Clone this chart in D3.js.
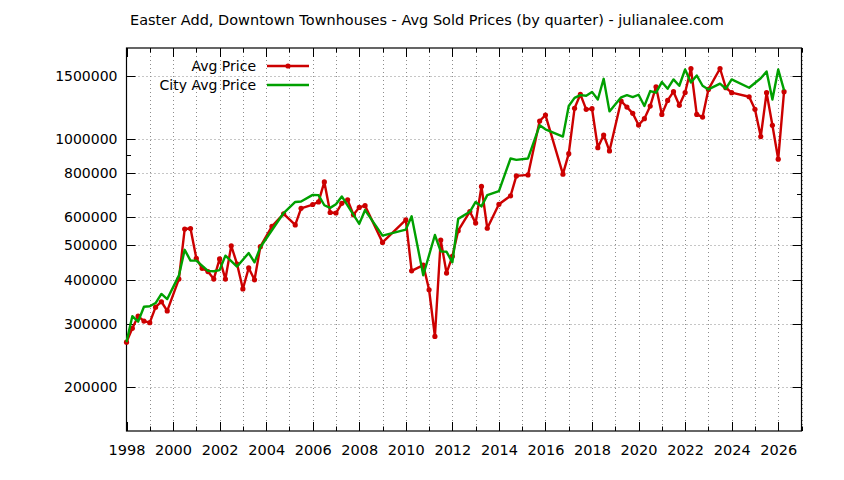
<!DOCTYPE html>
<html><head><meta charset="utf-8">
<script src="https://cdn.jsdelivr.net/npm/d3@7"></script>
<style>
html,body{margin:0;padding:0;background:#fff;}
svg text{font-family:"DejaVu Sans",sans-serif;}
</style></head>
<body><svg id="c" width="844" height="480"></svg>
<script>
const title = "Easter Add, Downtown Townhouses - Avg Sold Prices (by quarter) - julianalee.com";
const seriesNames = ["Avg Price", "City Avg Price"];

const avgDates = [1998.00,1998.25,1998.50,1998.75,1999.00,1999.25,1999.50,1999.75,2000.25,2000.50,2000.75,2001.00,2001.25,2001.50,2001.75,2002.00,2002.25,2002.50,2002.75,2003.00,2003.25,2003.50,2003.75,2004.25,2004.75,2005.25,2005.50,2006.00,2006.25,2006.50,2006.75,2007.00,2007.25,2007.50,2007.75,2008.00,2008.25,2009.00,2010.00,2010.25,2010.75,2011.00,2011.25,2011.50,2011.75,2012.00,2012.25,2012.75,2013.00,2013.25,2013.50,2014.00,2014.50,2014.75,2015.25,2015.75,2016.00,2016.75,2017.00,2017.25,2017.50,2017.75,2018.00,2018.25,2018.50,2018.75,2019.25,2019.50,2019.75,2020.00,2020.25,2020.50,2020.75,2021.00,2021.25,2021.50,2021.75,2022.00,2022.25,2022.50,2022.75,2023.00,2023.50,2023.75,2024.00,2024.75,2025.00,2025.25,2025.50,2025.75,2026.00,2026.25];
const avgPrice = [267000,292000,316000,306000,303000,335000,347000,327000,402000,556000,558000,460000,431000,422000,402000,458000,402000,499000,443000,377000,432000,400000,496000,566000,614000,571000,636000,652000,663000,755000,619000,617000,657000,672000,610000,640000,647000,510000,590000,424000,440000,375000,277000,518000,418000,466000,550000,623000,578000,733000,559000,653000,690000,785000,790000,1121000,1165000,794000,907000,1217000,1332000,1209000,1214000,943000,1023000,923000,1276000,1227000,1178000,1092000,1138000,1235000,1400000,1170000,1281000,1356000,1241000,1348000,1576000,1170000,1150000,1376000,1576000,1391000,1347000,1312000,1209000,1013000,1347000,1090000,875000,1356000];

const cityDates = [1998.00,1998.25,1998.50,1998.75,1999.00,1999.25,1999.50,1999.75,2000.25,2000.50,2000.75,2001.00,2001.50,2001.75,2002.00,2002.25,2002.75,2003.25,2003.50,2003.75,2004.75,2005.25,2005.50,2006.00,2006.25,2006.50,2006.75,2007.00,2007.25,2008.00,2008.25,2009.00,2010.00,2010.25,2010.75,2011.25,2011.50,2011.75,2012.00,2012.25,2012.75,2013.00,2013.25,2013.50,2014.00,2014.50,2014.75,2015.25,2015.75,2016.00,2016.75,2017.00,2017.25,2017.50,2017.75,2018.00,2018.25,2018.50,2018.75,2019.25,2019.50,2019.75,2020.00,2020.25,2020.50,2020.75,2021.00,2021.25,2021.50,2021.75,2022.00,2022.25,2022.50,2022.75,2023.00,2023.50,2023.75,2024.00,2024.75,2025.25,2025.50,2025.75,2026.00,2026.25];
const cityPrice = [267000,316000,305000,336000,337000,344000,365000,353000,411000,486000,453000,453000,424000,423000,426000,468000,436000,476000,448000,494000,617000,663000,665000,694000,693000,649000,638000,653000,687000,575000,629000,533000,554000,604000,412000,535000,481000,480000,448000,594000,622000,663000,644000,693000,711000,879000,871000,879000,1090000,1062000,1013000,1235000,1302000,1326000,1321000,1354000,1289000,1474000,1193000,1307000,1326000,1309000,1329000,1236000,1361000,1347000,1443000,1382000,1468000,1409000,1566000,1439000,1506000,1409000,1376000,1428000,1382000,1468000,1391000,1479000,1546000,1289000,1566000,1369000];

const xTickLabels = [1998,2000,2002,2004,2006,2008,2010,2012,2014,2016,2018,2020,2022,2024,2026];
const xMinorTicks = d3.range(1998, 2028, 1);
const yTickValues = [200000,300000,400000,500000,600000,800000,1000000,1500000];
const yMinorTicks = [700000,900000];

const W = 844, H = 480;
const L = 126.5, R = 801.5, T = 48, B = 431;
const svg = d3.select("#c");
const x = d3.scaleLinear().domain([1998, 2027]).range([L, R]);
const y = d3.scaleLog().domain([150000, 1800000]).range([B, T]);

const RED = "#cc0000", GREEN = "#00a000", GRID = "#8c8c8c";
const FS = 14;

// grid
const g = svg.append("g");
g.selectAll(".vg").data(xMinorTicks.filter(v => v > 1998)).join("line")
  .attr("x1", d => Math.round(x(d)) + 0.5).attr("x2", d => Math.round(x(d)) + 0.5)
  .attr("y1", T).attr("y2", B)
  .attr("stroke", GRID).attr("stroke-width", 1).attr("stroke-dasharray", "1,3");
g.selectAll(".hg").data(yTickValues).join("line")
  .attr("x1", L).attr("x2", R)
  .attr("y1", d => Math.round(y(d)) + 0.5).attr("y2", d => Math.round(y(d)) + 0.5)
  .attr("stroke", GRID).attr("stroke-width", 1).attr("stroke-dasharray", "1,3");

// axes via d3
const xAxisB = d3.axisBottom(x).tickValues(xTickLabels).tickFormat(d3.format("d")).tickSize(0).tickPadding(14);
const gx = svg.append("g").attr("transform", `translate(0,${B})`).call(xAxisB);
gx.select(".domain").remove();
gx.selectAll("text").attr("font-size", 14.5).attr("fill", "#000").attr("font-family", "DejaVu Sans");

const yAxisL = d3.axisLeft(y).tickValues(yTickValues).tickFormat(d3.format("d")).tickSize(0).tickPadding(9);
const gy = svg.append("g").attr("transform", `translate(${L},0)`).call(yAxisL);
gy.select(".domain").remove();
gy.selectAll("text").attr("font-size", FS).attr("fill", "#000").attr("font-family", "DejaVu Sans");

// ticks (inward, mirrored)
const tk = svg.append("g").attr("stroke", "#000").attr("stroke-width", 1);
xMinorTicks.forEach(v => {
  const major = v % 2 === 0;
  const len = major ? 9 : 4.5;
  const xx = Math.round(x(v)) + 0.5;
  tk.append("line").attr("x1", xx).attr("x2", xx).attr("y1", B).attr("y2", B - len);
  tk.append("line").attr("x1", xx).attr("x2", xx).attr("y1", T).attr("y2", T + len);
});
yTickValues.concat(yMinorTicks).forEach(v => {
  const major = yTickValues.includes(v);
  const len = major ? 9 : 4.5;
  const yy = Math.round(y(v)) + 0.5;
  tk.append("line").attr("x1", L).attr("x2", L + len).attr("y1", yy).attr("y2", yy);
  tk.append("line").attr("x1", R).attr("x2", R - len).attr("y1", yy).attr("y2", yy);
});

// border
svg.append("rect").attr("x", L).attr("y", T).attr("width", R - L).attr("height", B - T)
  .attr("fill", "none").attr("stroke", "#000").attr("stroke-width", 1.2);

// series
const avgData = avgDates.map((d, i) => [d, avgPrice[i]]);
const cityData = cityDates.map((d, i) => [d, cityPrice[i]]);
const line = d3.line().x(d => x(d[0])).y(d => y(d[1]));

svg.append("path").datum(avgData).attr("d", line)
  .attr("fill", "none").attr("stroke", RED).attr("stroke-width", 2.4).attr("stroke-linejoin", "round");
svg.append("g").selectAll("circle").data(avgData).join("circle")
  .attr("cx", d => x(d[0])).attr("cy", d => y(d[1])).attr("r", 2.6).attr("fill", RED);

svg.append("path").datum(cityData).attr("d", line)
  .attr("fill", "none").attr("stroke", GREEN).attr("stroke-width", 2.4).attr("stroke-linejoin", "round");

// legend
const lg = svg.append("g");
const legY = [66, 85];
lg.append("text").attr("x", 256).attr("y", legY[0] + 5).attr("text-anchor", "end").attr("font-size", FS).text(seriesNames[0]);
lg.append("text").attr("x", 256).attr("y", legY[1] + 5).attr("text-anchor", "end").attr("font-size", FS).text(seriesNames[1]);
lg.append("line").attr("x1", 267).attr("x2", 309).attr("y1", legY[0]).attr("y2", legY[0]).attr("stroke", RED).attr("stroke-width", 2.4);
lg.append("circle").attr("cx", 288).attr("cy", legY[0]).attr("r", 2.6).attr("fill", RED);
lg.append("line").attr("x1", 267).attr("x2", 309).attr("y1", legY[1]).attr("y2", legY[1]).attr("stroke", GREEN).attr("stroke-width", 2.4);

// title
svg.append("text").attr("x", 427).attr("y", 25).attr("text-anchor", "middle").attr("font-size", 14.5).text(title);
</script>
</body></html>
